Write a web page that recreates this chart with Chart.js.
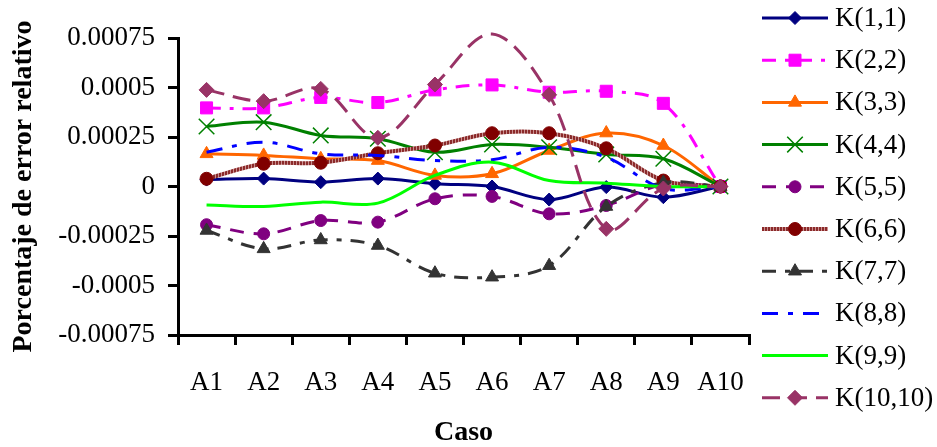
<!DOCTYPE html>
<html>
<head>
<meta charset="utf-8">
<script src="https://cdn.jsdelivr.net/npm/chart.js@4/dist/chart.umd.min.js"></script>
<style>
  html, body { margin: 0; padding: 0; background: #fff; }
  #wrap { width: 937px; height: 447px; position: relative; }
</style>
</head>
<body>
<div id="wrap"><canvas id="chart"></canvas></div>
<script>
const casos = ["A1", "A2", "A3", "A4", "A5", "A6", "A7", "A8", "A9", "A10"];
const yTicks = [-0.00075, -0.0005, -0.00025, 0, 0.00025, 0.0005, 0.00075];

const k11 = [0.000035, 0.00004, 0.000022, 0.00004, 0.000014, 0.0, -0.000066, -0.000003, -0.000054, 0];
const k22 = [0.000397, 0.000397, 0.00045, 0.000424, 0.000488, 0.000513, 0.000476, 0.000481, 0.00042, 0];
const k33 = [0.000165, 0.000157, 0.00014, 0.000131, 0.000056, 0.000064, 0.000182, 0.00027, 0.000207, 0];
const k44 = [0.000303, 0.000325, 0.000258, 0.000241, 0.000173, 0.000212, 0.000198, 0.000162, 0.00014, 0];
const k55 = [-0.000193, -0.000239, -0.000172, -0.00018, -0.000062, -0.00005, -0.000138, -0.000096, 0.00001, 0];
const k66 = [0.000039, 0.000115, 0.00012, 0.000168, 0.000207, 0.000269, 0.000269, 0.000193, 0.00003, 0];
const k77 = [-0.000222, -0.000315, -0.00027, -0.000298, -0.000438, -0.000458, -0.0004, -0.000101, 0.00002, 0];
const k88 = [0.000173, 0.000224, 0.000165, 0.000157, 0.000131, 0.000135, 0.000198, 0.000148, -0.00001, 0];
const k99 = [-0.000093, -0.000101, -0.000079, -0.000084, 0.000056, 0.000123, 0.00003, 0.000017, 0, 0];
const k1010 = [0.000488, 0.000431, 0.000493, 0.000246, 0.000515, 0.00077, 0.000463, -0.000214, -0.00001, 0];

const FONT = "'Liberation Serif', 'Times New Roman', serif";

// hatched brown line for K(6,6)
function hatch() {
  const c = document.createElement("canvas");
  c.width = 3; c.height = 3;
  const g = c.getContext("2d");
  g.fillStyle = "#8b2a2a";
  g.fillRect(0, 0, 3, 3);
  g.fillStyle = "#c98f8f";
  g.fillRect(2, 0, 1, 3);
  return g.createPattern(c, "repeat");
}

function serie(label, data, color, dash, style, radius, extra) {
  return Object.assign({
    label, data,
    borderColor: color,
    backgroundColor: color,
    borderWidth: 3,
    borderDash: dash,
    pointStyle: style || "circle",
    markerSize: radius,
    pointRadius: (ctx) => (style && Math.abs(ctx.raw) <= 0.00075 ? radius : 0),
    pointBorderWidth: 1,
    pointBackgroundColor: color,
    pointBorderColor: color,
    tension: 0.35,
    clip: false,
  }, extra || {});
}

const datasets = [
  serie("K(1,1)", k11, "#000080", [], "rectRot", 6.5),
  serie("K(2,2)", k22, "#ff00ff", [14, 9, 4, 9], "rect", 8.5),
  serie("K(3,3)", k33, "#ff6600", [], "triangle", 7.5),
  serie("K(4,4)", k44, "#008000", [], "crossRot", 11, { pointBorderWidth: 1.5 }),
  serie("K(5,5)", k55, "#800080", [14, 10], "circle", 6),
  serie("K(6,6)", k66, hatch(), [], "circle", 6.5, { borderWidth: 4, pointBackgroundColor: "#800000", pointBorderColor: "#800000" }),
  serie("K(7,7)", k77, "#333333", [14, 9, 5, 9], "triangle", 7.5),
  serie("K(8,8)", k88, "#0000ff", [16, 10, 5, 10], null, 0),
  serie("K(9,9)", k99, "#00ff00", [], null, 0),
  serie("K(10,10)", k1010, "#993366", [18, 9], "rectRot", 7.5),
];
datasets.forEach((d, i) => { d.order = datasets.length - i; });

const legendPlugin = {
  id: "sideLegend",
  afterDraw(chart) {
    const ctx = chart.ctx;
    chart.data.datasets.forEach((ds, i) => {
      const y = 18 + i * 42.2;
      ctx.save();
      ctx.strokeStyle = ds.borderColor;
      ctx.lineWidth = ds.borderWidth;
      ctx.setLineDash(ds.borderDash);
      ctx.beginPath();
      ctx.moveTo(762, y);
      ctx.lineTo(828, y);
      ctx.stroke();
      ctx.setLineDash([]);
      if (ds.markerSize) {
        ctx.fillStyle = ds.pointBackgroundColor;
        ctx.strokeStyle = ds.pointBorderColor;
        ctx.lineWidth = ds.pointBorderWidth;
        Chart.helpers.drawPoint(ctx, { pointStyle: ds.pointStyle, radius: ds.markerSize, rotation: 0, borderWidth: ds.pointBorderWidth }, 795, y);
      }
      ctx.fillStyle = "#000";
      ctx.font = "27px " + FONT;
      ctx.textAlign = "left";
      ctx.textBaseline = "middle";
      ctx.fillText(ds.label, 835, y + 1);
      ctx.restore();
    });
  }
};

new Chart(document.getElementById("chart"), {
  type: "line",
  data: { labels: casos, datasets },
  plugins: [legendPlugin],
  options: {
    responsive: true,
    maintainAspectRatio: false,
    animation: false,
    layout: { padding: { top: 38, right: 188, bottom: 0, left: 0 } },
    elements: { line: { capBezierPoints: false } },
    plugins: { legend: { display: false }, tooltip: { enabled: false } },
    scales: {
      x: {
        offset: true,
        grid: { offset: true, drawOnChartArea: false, tickLength: 10, color: "#000", lineWidth: 3 },
        border: { color: "#000", width: 3 },
        ticks: { color: "#000", font: { family: FONT, size: 27 }, padding: 22, maxRotation: 0 },
        title: { display: true, text: "Caso", color: "#000", font: { family: FONT, size: 28, weight: "bold", lineHeight: 1 }, padding: { top: 0, bottom: 0 } },
        afterFit(scale) { scale.height = 112; },
      },
      y: {
        min: -0.00075,
        max: 0.00075,
        afterBuildTicks(scale) { scale.ticks = yTicks.map((v) => ({ value: v })); },
        grid: { drawOnChartArea: false, tickLength: 10, color: "#000", lineWidth: 3 },
        border: { color: "#000", width: 3 },
        ticks: {
          color: "#000",
          font: { family: FONT, size: 27 },
          padding: 13,
          callback: (v) => String(Math.round(v * 1e5) / 1e5),
        },
        title: { display: true, text: "Porcentaje de error relativo", color: "#000", font: { family: FONT, size: 28, weight: "bold", lineHeight: 1 }, padding: { top: 10, bottom: 0 } },
        afterFit(scale) { scale.width = 178; },
      },
    },
  },
});
</script>
</body>
</html>
